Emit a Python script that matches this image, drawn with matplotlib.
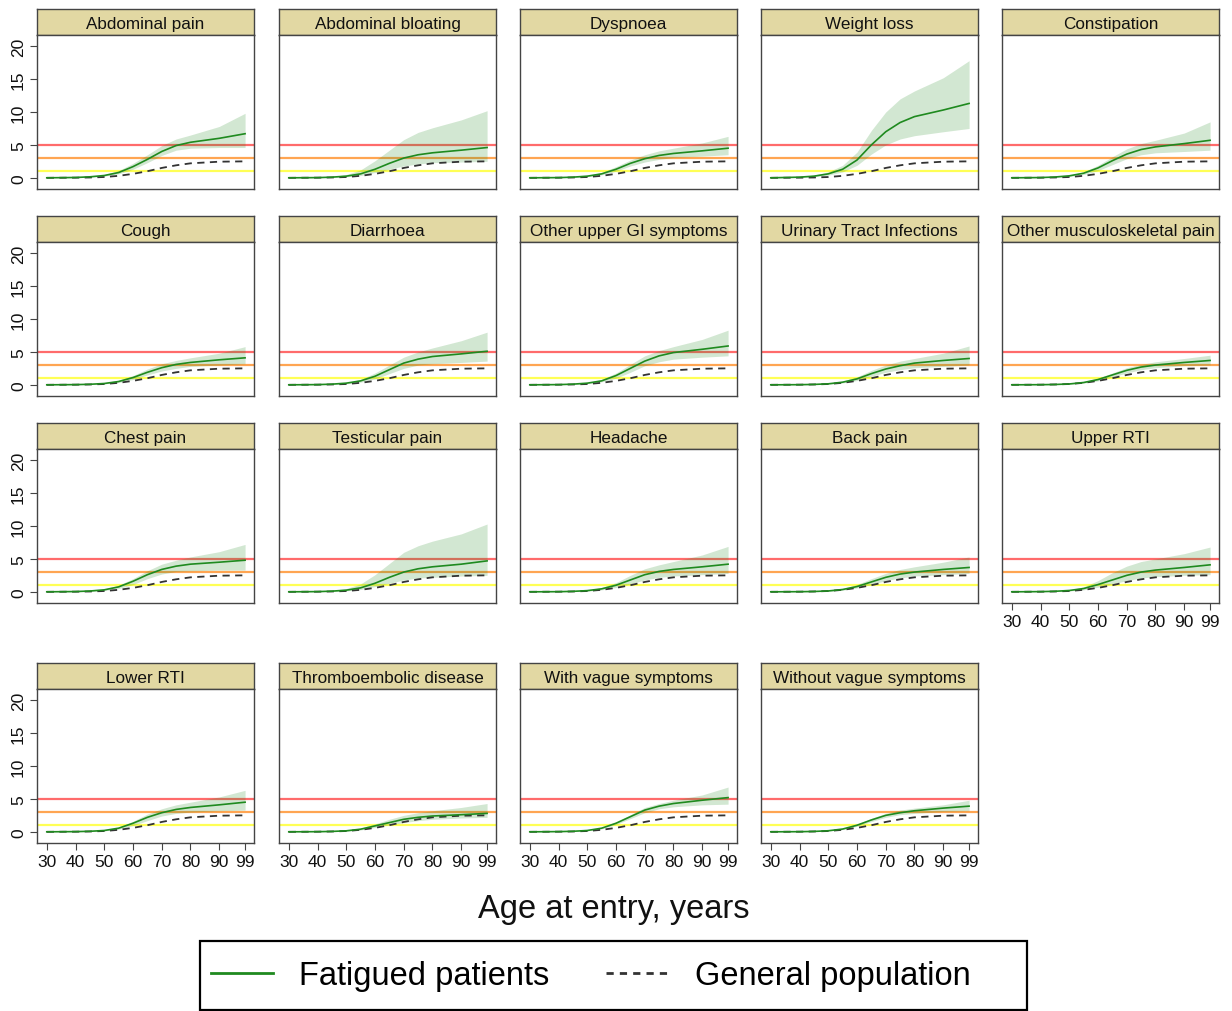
"""Cumulative incidence by age, fatigued patients versus general population."""

import matplotlib

matplotlib.use("Agg")

import matplotlib.pyplot as plt
from matplotlib.patches import Rectangle

plt.rcParams["font.family"] = ["Liberation Sans", "DejaVu Sans"]

ages = [30, 40, 45, 50, 55, 60, 65, 70, 75, 80, 90, 99]
x_ticks = [30, 40, 50, 60, 70, 80, 90, 99]
y_ticks = [0, 5, 10, 15, 20]

general_population = [0.0, 0.02, 0.05, 0.12, 0.3, 0.6, 1.0, 1.5, 1.9, 2.2, 2.45, 2.5]

symptoms = [
    "Abdominal pain", "Abdominal bloating", "Dyspnoea", "Weight loss", "Constipation",
    "Cough", "Diarrhoea", "Other upper GI symptoms", "Urinary Tract Infections",
    "Other musculoskeletal pain",
    "Chest pain", "Testicular pain", "Headache", "Back pain", "Upper RTI",
    "Lower RTI", "Thromboembolic disease", "With vague symptoms", "Without vague symptoms",
]

fatigued_mean = [
    [0, 0.05, 0.15, 0.35, 0.8, 1.7, 2.8, 4.0, 4.9, 5.4, 6.0, 6.7],
    [0, 0.03, 0.1, 0.25, 0.6, 1.3, 2.2, 3.0, 3.5, 3.8, 4.2, 4.6],
    [0, 0.03, 0.1, 0.25, 0.6, 1.3, 2.2, 2.9, 3.4, 3.7, 4.1, 4.5],
    [0, 0.1, 0.25, 0.6, 1.3, 2.7, 5.0, 7.0, 8.4, 9.3, 10.3, 11.3],
    [0, 0.04, 0.12, 0.3, 0.7, 1.5, 2.6, 3.6, 4.3, 4.7, 5.2, 5.7],
    [0, 0.03, 0.08, 0.2, 0.5, 1.1, 1.9, 2.6, 3.1, 3.4, 3.8, 4.1],
    [0, 0.03, 0.1, 0.25, 0.6, 1.3, 2.3, 3.3, 3.9, 4.3, 4.7, 5.1],
    [0, 0.03, 0.1, 0.25, 0.6, 1.4, 2.5, 3.6, 4.4, 4.9, 5.4, 5.9],
    [0, 0.02, 0.06, 0.15, 0.4, 0.9, 1.7, 2.4, 2.9, 3.3, 3.7, 4.0],
    [0, 0.02, 0.05, 0.13, 0.35, 0.8, 1.5, 2.2, 2.7, 3.0, 3.4, 3.7],
    [0, 0.04, 0.12, 0.3, 0.75, 1.6, 2.6, 3.4, 3.9, 4.2, 4.5, 4.8],
    [0, 0.03, 0.1, 0.25, 0.6, 1.3, 2.2, 3.0, 3.5, 3.8, 4.2, 4.7],
    [0, 0.02, 0.07, 0.18, 0.45, 1.0, 1.8, 2.6, 3.1, 3.4, 3.8, 4.2],
    [0, 0.02, 0.05, 0.13, 0.35, 0.8, 1.5, 2.2, 2.7, 3.0, 3.4, 3.7],
    [0, 0.03, 0.08, 0.2, 0.5, 1.1, 1.8, 2.5, 3.0, 3.3, 3.7, 4.1],
    [0, 0.03, 0.08, 0.2, 0.55, 1.3, 2.2, 2.9, 3.4, 3.7, 4.1, 4.5],
    [0, 0.02, 0.06, 0.15, 0.4, 0.9, 1.4, 1.9, 2.2, 2.4, 2.6, 2.8],
    [0, 0.03, 0.08, 0.2, 0.55, 1.3, 2.3, 3.3, 3.9, 4.3, 4.8, 5.2],
    [0, 0.02, 0.06, 0.16, 0.42, 1.0, 1.8, 2.5, 2.9, 3.2, 3.6, 3.9],
]

fatigued_low = [
    [0, 0.03, 0.1, 0.25, 0.6, 1.3, 2.3, 3.4, 4.2, 4.5, 4.6, 4.6],
    [0, 0.02, 0.06, 0.15, 0.35, 0.8, 1.3, 1.8, 2.1, 2.3, 2.4, 2.5],
    [0, 0.02, 0.07, 0.18, 0.45, 1.0, 1.8, 2.4, 2.8, 3.1, 3.3, 3.5],
    [0, 0.05, 0.15, 0.4, 0.9, 1.9, 3.6, 5.0, 5.9, 6.4, 7.0, 7.5],
    [0, 0.02, 0.08, 0.2, 0.5, 1.1, 2.0, 2.9, 3.5, 3.8, 4.0, 4.2],
    [0, 0.02, 0.05, 0.14, 0.35, 0.8, 1.5, 2.1, 2.5, 2.8, 3.0, 3.2],
    [0, 0.02, 0.06, 0.15, 0.4, 0.9, 1.7, 2.5, 3.0, 3.2, 3.4, 3.6],
    [0, 0.02, 0.07, 0.18, 0.45, 1.0, 1.9, 2.9, 3.5, 3.9, 4.2, 4.4],
    [0, 0.01, 0.04, 0.1, 0.28, 0.65, 1.3, 1.9, 2.3, 2.6, 2.8, 3.0],
    [0, 0.01, 0.03, 0.09, 0.25, 0.6, 1.2, 1.8, 2.3, 2.6, 2.9, 3.0],
    [0, 0.02, 0.08, 0.2, 0.5, 1.1, 2.0, 2.7, 3.1, 3.2, 3.3, 3.3],
    [0, 0.02, 0.06, 0.15, 0.35, 0.8, 1.3, 1.8, 2.1, 2.2, 2.4, 2.5],
    [0, 0.01, 0.04, 0.1, 0.3, 0.65, 1.2, 1.8, 2.2, 2.4, 2.6, 2.8],
    [0, 0.01, 0.03, 0.08, 0.24, 0.58, 1.1, 1.7, 2.1, 2.4, 2.6, 2.8],
    [0, 0.02, 0.05, 0.13, 0.3, 0.7, 1.2, 1.7, 2.1, 2.3, 2.5, 2.6],
    [0, 0.02, 0.05, 0.14, 0.4, 0.95, 1.7, 2.4, 2.8, 3.0, 3.2, 3.3],
    [0, 0.01, 0.04, 0.1, 0.28, 0.65, 1.05, 1.4, 1.7, 1.9, 2.1, 2.2],
    [0, 0.02, 0.06, 0.16, 0.45, 1.1, 2.0, 2.9, 3.5, 3.8, 4.1, 4.2],
    [0, 0.015, 0.05, 0.13, 0.35, 0.85, 1.55, 2.2, 2.6, 2.8, 3.1, 3.2],
]

fatigued_high = [
    [0, 0.1, 0.2, 0.5, 1.1, 2.2, 3.5, 4.9, 5.9, 6.5, 7.8, 9.8],
    [0, 0.08, 0.2, 0.5, 1.2, 2.6, 4.2, 5.8, 6.9, 7.6, 8.8, 10.2],
    [0, 0.05, 0.15, 0.35, 0.8, 1.7, 2.7, 3.5, 4.1, 4.5, 5.3, 6.3],
    [0, 0.2, 0.4, 0.9, 1.9, 3.9, 7.2, 10.0, 12.0, 13.2, 15.2, 17.8],
    [0, 0.07, 0.18, 0.4, 0.9, 1.9, 3.2, 4.4, 5.2, 5.7, 6.8, 8.5],
    [0, 0.05, 0.12, 0.3, 0.7, 1.4, 2.4, 3.2, 3.7, 4.1, 4.8, 5.8],
    [0, 0.06, 0.15, 0.35, 0.8, 1.8, 3.0, 4.2, 5.0, 5.6, 6.7, 8.0],
    [0, 0.05, 0.14, 0.35, 0.8, 1.8, 3.1, 4.4, 5.2, 5.8, 6.9, 8.3],
    [0, 0.04, 0.1, 0.22, 0.55, 1.2, 2.2, 3.0, 3.6, 4.0, 4.8, 5.9],
    [0, 0.03, 0.08, 0.2, 0.5, 1.0, 1.8, 2.6, 3.1, 3.5, 4.0, 4.5],
    [0, 0.06, 0.17, 0.45, 1.0, 2.0, 3.2, 4.2, 4.8, 5.3, 6.1, 7.2],
    [0, 0.07, 0.2, 0.5, 1.2, 2.6, 4.3, 6.0, 7.0, 7.7, 8.8, 10.3],
    [0, 0.04, 0.11, 0.28, 0.65, 1.4, 2.5, 3.5, 4.1, 4.6, 5.6, 6.9],
    [0, 0.03, 0.08, 0.2, 0.5, 1.1, 2.0, 2.8, 3.4, 3.8, 4.5, 5.3],
    [0, 0.05, 0.12, 0.3, 0.75, 1.7, 2.9, 3.9, 4.6, 5.0, 5.8, 6.8],
    [0, 0.04, 0.11, 0.28, 0.7, 1.6, 2.7, 3.5, 4.1, 4.5, 5.3, 6.3],
    [0, 0.03, 0.09, 0.22, 0.55, 1.2, 1.9, 2.5, 2.9, 3.2, 3.7, 4.3],
    [0, 0.04, 0.1, 0.25, 0.65, 1.5, 2.6, 3.7, 4.3, 4.8, 5.6, 6.8],
    [0, 0.03, 0.08, 0.2, 0.5, 1.15, 2.05, 2.8, 3.3, 3.6, 4.1, 4.8],
]

# Risk thresholds drawn across every panel
thresholds = [5, 3, 1]
threshold_colors = ["#ff6b6b", "#ffa552", "#ffff55"]

GREEN = "#1f8a1f"
STRIP = "#e2d8a3"
FRAME = "#444444"

FIG_W, FIG_H = 1232, 1012
col_left = [37, 279, 520, 761, 1002]
panel_w = 217
strip_h = 26
row_strip_top = [10, 217, 424, 664]
panel_h = 154


def px_rect(left, top, width, height):
    return [left / FIG_W, 1 - (top + height) / FIG_H, width / FIG_W, height / FIG_H]


fig = plt.figure(figsize=(FIG_W / 100, FIG_H / 100), dpi=100)

line_fat = line_gen = None
for i, name in enumerate(symptoms):
    row, col = divmod(i, 5)
    left = col_left[col]
    top = row_strip_top[row]

    strip = fig.add_axes(px_rect(left, top, panel_w, strip_h))
    strip.set_facecolor(STRIP)
    strip.set_xticks([])
    strip.set_yticks([])
    for spine in strip.spines.values():
        spine.set_color(FRAME)
        spine.set_linewidth(1.0)
    strip.text(0.5, 0.45, name, ha="center", va="center", fontsize=12.3,
               color="#111111", transform=strip.transAxes)

    ax = fig.add_axes(px_rect(left, top + strip_h, panel_w, panel_h))
    for y, c in zip(thresholds, threshold_colors):
        ax.axhline(y, color=c, lw=1.6, zorder=1)
    ax.fill_between(ages, fatigued_low[i], fatigued_high[i], color=GREEN,
                    alpha=0.2, lw=0, zorder=2)
    line_gen, = ax.plot(ages, general_population, color="#333333", lw=1.3,
                        ls=(0, (4, 3)), zorder=3)
    line_fat, = ax.plot(ages, fatigued_mean[i], color=GREEN, lw=1.2, zorder=4)

    ax.set_xlim(26.6, 102.1)
    ax.set_ylim(-1.7, 21.7)
    ax.set_xticks(x_ticks)
    ax.set_yticks(y_ticks)
    for spine in ax.spines.values():
        spine.set_color(FRAME)
        spine.set_linewidth(1.0)
    ax.tick_params(direction="out", length=5, width=0.8, color=FRAME,
                   labelsize=12.5, labelcolor="#111111", pad=3)

    show_x = row == 3 or (row == 2 and col == 4)
    show_y = col == 0
    if not show_x:
        ax.tick_params(axis="x", bottom=False, labelbottom=False)
    if show_y:
        for lab in ax.get_yticklabels():
            lab.set_rotation(90)
            lab.set_va("center")
    else:
        ax.tick_params(axis="y", left=False, labelleft=False)

fig.text(614 / FIG_W, 1 - 910 / FIG_H, "Age at entry, years", ha="center",
         va="center", fontsize=23.5, color="#111111")

# Legend entries sit left of centre inside a wider box
leg = fig.legend([line_fat, line_gen], ["Fatigued patients", "General population"],
                 ncol=2, loc="center left", bbox_to_anchor=(211 / FIG_W, 1 - 977 / FIG_H),
                 fontsize=23.5, frameon=False, handlelength=1.9, handletextpad=0.8,
                 columnspacing=1.75, borderpad=0, borderaxespad=0)
for h in leg.legend_handles:
    h.set_linewidth(2.0)
leg.legend_handles[1].set_linestyle((0, (2.6, 2.2)))

fig.patches.append(Rectangle((200 / FIG_W, 1 - 1011 / FIG_H), 827 / FIG_W, 69 / FIG_H,
                             transform=fig.transFigure, fill=False,
                             edgecolor="black", lw=1.6))

fig.savefig("out.png", dpi=100)
